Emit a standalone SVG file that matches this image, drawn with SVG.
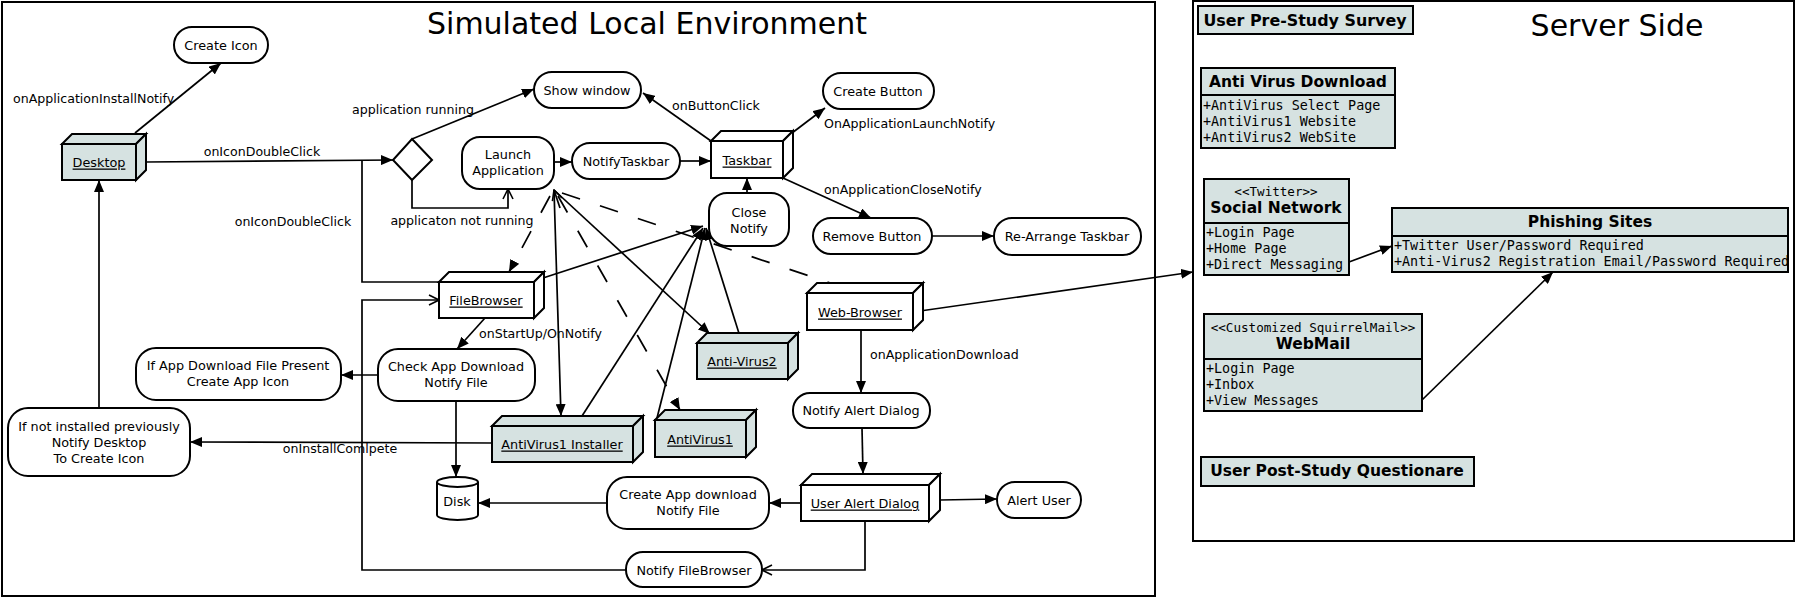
<svg xmlns="http://www.w3.org/2000/svg" width="1796" height="598" viewBox="0 0 1796 598">
<defs>
<style>
text{font-family:"DejaVu Sans","Liberation Sans",sans-serif;font-size:12.6px;fill:#000}
.t{text-anchor:middle;dominant-baseline:central;font-size:12.8px}
.u{text-decoration:underline}
.lbl{dominant-baseline:central}
.title{font-size:30px;text-anchor:middle}
.b{font-weight:bold;font-size:15.5px;text-anchor:middle;dominant-baseline:central}
.m{font-family:"DejaVu Sans Mono","Liberation Mono",monospace;font-size:13.4px}
.ms{font-family:"DejaVu Sans Mono","Liberation Mono",monospace;font-size:12.6px;text-anchor:middle;dominant-baseline:central}
.n{fill:#fff;stroke:#000;stroke-width:2}
.f{fill:#d6e2e1;stroke:#000;stroke-width:2}
.frame{fill:none;stroke:#000;stroke-width:2}
.c path,.c line,.c polyline{fill:none;stroke:#000;stroke-width:1.7}
.d{stroke-dasharray:19 21}
</style>
<marker id="a" viewBox="0 0 12 10" refX="12" refY="5" markerWidth="12" markerHeight="10" orient="auto" markerUnits="userSpaceOnUse"><path d="M0,0 L12,5 L0,10 z" fill="#000"/></marker>
<marker id="o" viewBox="0 0 12 12" refX="11" refY="6" markerWidth="12" markerHeight="12" orient="auto" markerUnits="userSpaceOnUse"><path d="M1,1 L11,6 L1,11" fill="none" stroke="#000" stroke-width="1.6"/></marker>
</defs>
<rect width="1796" height="598" fill="#fff"/>

<g id="local-frame">
<rect class="frame" x="2" y="2" width="1153" height="594"/>
<text class="title" x="647" y="34">Simulated Local Environment</text>
</g>
<g id="server-frame">
<rect class="frame" x="1193" y="1" width="601" height="540"/>
<text class="title" x="1617" y="36">Server Side</text>
</g>

<g class="c" id="connectors">
<line x1="135" y1="133" x2="221" y2="63" marker-end="url(#a)"/>
<line x1="146" y1="162" x2="393" y2="160" marker-end="url(#a)"/>
<line x1="412" y1="139" x2="534" y2="89" marker-end="url(#a)"/>
<polyline points="412,180 412,208 508,208 508,189" marker-end="url(#o)"/>
<polyline points="439,282 362,282 362,161"/>
<line x1="554" y1="162" x2="572" y2="162" marker-end="url(#a)"/>
<line x1="680" y1="161" x2="711" y2="161" marker-end="url(#a)"/>
<line x1="711" y1="141" x2="643" y2="93" marker-end="url(#a)"/>
<line x1="792" y1="133" x2="825" y2="108" marker-end="url(#a)"/>
<line x1="783" y1="178" x2="871" y2="218" marker-end="url(#a)"/>
<line x1="932" y1="236" x2="994" y2="236" marker-end="url(#a)"/>
<line x1="747" y1="193" x2="747" y2="178" marker-end="url(#a)"/>
<line x1="543" y1="278" x2="703" y2="226" marker-end="url(#a)"/>
<line x1="582" y1="416" x2="703" y2="228" marker-end="url(#a)"/>
<line x1="657" y1="418" x2="705" y2="228" marker-end="url(#a)"/>
<line x1="742" y1="343" x2="706" y2="228" marker-end="url(#a)"/>
<line x1="554" y1="190" x2="561" y2="416" marker-end="url(#a)"/>
<line x1="554" y1="190" x2="710" y2="334" marker-end="url(#a)"/>
<line x1="560" y1="208" x2="554" y2="190" marker-end="url(#o)"/>
<line class="d" x1="550" y1="196" x2="509" y2="272" marker-end="url(#a)"/>
<line class="d" x1="558" y1="196" x2="680" y2="410" marker-end="url(#a)"/>
<line class="d" x1="562" y1="193" x2="854" y2="291" marker-end="url(#a)"/>
<line x1="485" y1="318" x2="457" y2="349" marker-end="url(#a)"/>
<line x1="378" y1="375" x2="341" y2="375" marker-end="url(#a)"/>
<line x1="456" y1="401" x2="456" y2="477" marker-end="url(#a)"/>
<line x1="492" y1="443" x2="190" y2="442" marker-end="url(#a)"/>
<line x1="99" y1="408" x2="99" y2="180" marker-end="url(#a)"/>
<line x1="913" y1="312" x2="1193" y2="272" marker-end="url(#a)"/>
<line x1="861" y1="330" x2="861" y2="393" marker-end="url(#a)"/>
<line x1="862" y1="428" x2="863" y2="474" marker-end="url(#a)"/>
<line x1="940" y1="500" x2="997" y2="499" marker-end="url(#a)"/>
<line x1="801" y1="503" x2="769" y2="503" marker-end="url(#a)"/>
<line x1="607" y1="503" x2="478" y2="503" marker-end="url(#a)"/>
<polyline points="865,521 865,570 762,570" marker-end="url(#o)"/>
<polyline points="626,570 362,570 362,300 439,300" marker-end="url(#o)"/>
<line x1="1349" y1="262" x2="1392" y2="246" marker-end="url(#a)"/>
<line x1="1422" y1="400" x2="1553" y2="272" marker-end="url(#a)"/>
<text class="lbl" x="13" y="98">onApplicationInstallNotify</text>
<text class="lbl" x="262" y="151" text-anchor="middle">onIconDoubleClick</text>
<text class="lbl" x="413" y="109" text-anchor="middle">application running</text>
<text class="lbl" x="462" y="220" text-anchor="middle">applicaton not running</text>
<text class="lbl" x="293" y="221" text-anchor="middle">onIconDoubleClick</text>
<text class="lbl" x="672" y="105">onButtonClick</text>
<text class="lbl" x="824" y="123">OnApplicationLaunchNotify</text>
<text class="lbl" x="824" y="189">onApplicationCloseNotify</text>
<text class="lbl" x="479" y="333">onStartUp/OnNotify</text>
<text class="lbl" x="340" y="448" text-anchor="middle">onInstallComlpete</text>
<text class="lbl" x="870" y="354">onApplicationDownload</text>
</g>

<g id="create-icon"><rect class="n" x="174" y="27" width="94" height="36" rx="18"/><text class="t" x="221" y="45">Create Icon</text></g>
<g id="show-window"><rect class="n" x="534" y="72" width="107" height="36" rx="18"/><text class="t" x="587" y="90">Show window</text></g>
<g id="launch-application"><rect class="n" x="462" y="137" width="92" height="52" rx="18"/><text class="t" x="508" y="154">Launch</text><text class="t" x="508" y="170">Application</text></g>
<g id="notify-taskbar"><rect class="n" x="572" y="143" width="108" height="36" rx="18"/><text class="t" x="626" y="161">NotifyTaskbar</text></g>
<g id="create-button"><rect class="n" x="823" y="73" width="111" height="36" rx="18"/><text class="t" x="878" y="91">Create Button</text></g>
<g id="remove-button"><rect class="n" x="813" y="218" width="119" height="36" rx="18"/><text class="t" x="872" y="236">Remove Button</text></g>
<g id="rearrange-taskbar"><rect class="n" x="994" y="218" width="147" height="37" rx="18"/><text class="t" x="1067" y="236">Re-Arrange Taskbar</text></g>
<g id="close-notify"><rect class="n" x="709" y="193" width="80" height="53" rx="18"/><text class="t" x="749" y="212">Close</text><text class="t" x="749" y="228">Notify</text></g>
<g id="check-app-download"><rect class="n" x="378" y="349" width="157" height="52" rx="20"/><text class="t" x="456" y="366">Check App Download</text><text class="t" x="456" y="382">Notify File</text></g>
<g id="if-app-download"><rect class="n" x="136" y="348" width="205" height="52" rx="20"/><text class="t" x="238" y="365">If App Download File Present</text><text class="t" x="238" y="381">Create App Icon</text></g>
<g id="if-not-installed"><rect class="n" x="8" y="408" width="182" height="68" rx="20"/><text class="t" x="99" y="426">If not installed previously</text><text class="t" x="99" y="442">Notify Desktop</text><text class="t" x="99" y="458">To Create Icon</text></g>
<g id="notify-alert-dialog"><rect class="n" x="793" y="393" width="137" height="35" rx="17"/><text class="t" x="861" y="410">Notify Alert Dialog</text></g>
<g id="alert-user"><rect class="n" x="997" y="482" width="84" height="36" rx="18"/><text class="t" x="1039" y="500">Alert User</text></g>
<g id="create-app-download"><rect class="n" x="607" y="477" width="162" height="52" rx="20"/><text class="t" x="688" y="494">Create App download</text><text class="t" x="688" y="510">Notify File</text></g>
<g id="notify-filebrowser"><rect class="n" x="626" y="552" width="136" height="35" rx="17"/><text class="t" x="694" y="570">Notify FileBrowser</text></g>

<g id="decision"><path class="n" d="M412,139 L432,160 L412,180 L393,160 Z"/></g>

<g id="desktop"><rect class="f" x="62" y="144" width="74" height="36"/><path class="f" d="M62,144 L72,134 L146,134 L136,144 Z"/><path class="f" d="M136,144 L146,134 L146,170 L136,180 Z"/><text class="t u" x="99" y="162">Desktop</text></g>
<g id="taskbar"><rect class="n" x="711" y="141" width="72" height="37"/><path class="n" d="M711,141 L721,131 L793,131 L783,141 Z"/><path class="n" d="M783,141 L793,131 L793,168 L783,178 Z"/><text class="t u" x="747" y="160">Taskbar</text></g>
<g id="filebrowser"><rect class="n" x="439" y="282" width="95" height="36"/><path class="n" d="M439,282 L449,272 L544,272 L534,282 Z"/><path class="n" d="M534,282 L544,272 L544,308 L534,318 Z"/><text class="t u" x="486" y="300">FileBrowser</text></g>
<g id="web-browser"><rect class="n" x="807" y="293" width="106" height="37"/><path class="n" d="M807,293 L817,283 L923,283 L913,293 Z"/><path class="n" d="M913,293 L923,283 L923,320 L913,330 Z"/><text class="t u" x="860" y="312">Web-Browser</text></g>
<g id="anti-virus2"><rect class="f" x="697" y="343" width="91" height="36"/><path class="f" d="M697,343 L707,333 L798,333 L788,343 Z"/><path class="f" d="M788,343 L798,333 L798,369 L788,379 Z"/><text class="t u" x="742" y="361">Anti-Virus2</text></g>
<g id="antivirus1"><rect class="f" x="655" y="420" width="91" height="37"/><path class="f" d="M655,420 L665,410 L756,410 L746,420 Z"/><path class="f" d="M746,420 L756,410 L756,447 L746,457 Z"/><text class="t u" x="700" y="439">AntiVirus1</text></g>
<g id="antivirus1-installer"><rect class="f" x="492" y="426" width="141" height="36"/><path class="f" d="M492,426 L502,416 L643,416 L633,426 Z"/><path class="f" d="M633,426 L643,416 L643,452 L633,462 Z"/><text class="t u" x="562" y="444">AntiVirus1 Installer</text></g>
<g id="user-alert-dialog"><rect class="n" x="801" y="485" width="128" height="36"/><path class="n" d="M801,485 L812,474 L940,474 L929,485 Z"/><path class="n" d="M929,485 L940,474 L940,510 L929,521 Z"/><text class="t u" x="865" y="503">User Alert Dialog</text></g>
<g id="disk"><path class="n" d="M437,482 A20.5,5 0 0 1 478,482 L478,515 A20.5,5 0 0 1 437,515 Z"/><path d="M437,482 A20.5,5 0 0 0 478,482" fill="none" stroke="#000" stroke-width="2"/><text class="t" x="457" y="501">Disk</text></g>

<g id="pre-study-survey"><rect class="f" x="1198" y="6" width="215" height="28"/><text class="b" x="1305" y="20" style="font-size:15.9px">User Pre-Study Survey</text></g>
<g id="anti-virus-download"><rect class="f" x="1201" y="68" width="194" height="80"/><line x1="1201" y1="95" x2="1395" y2="95" stroke="#000" stroke-width="2"/><text class="b" x="1298" y="82">Anti Virus Download</text><text class="m" x="1203" y="110">+AntiVirus Select Page</text><text class="m" x="1203" y="126">+AntiVirus1 Website</text><text class="m" x="1203" y="142">+AntiVirus2 WebSite</text></g>
<g id="social-network"><rect class="f" x="1204" y="179" width="145" height="96"/><line x1="1204" y1="223" x2="1349" y2="223" stroke="#000" stroke-width="2"/><text class="ms" x="1276" y="191">&lt;&lt;Twitter&gt;&gt;</text><text class="b" x="1276" y="208">Social Network</text><text class="m" x="1206" y="237">+Login Page</text><text class="m" x="1206" y="253">+Home Page</text><text class="m" x="1206" y="269">+Direct Messaging</text></g>
<g id="phishing-sites"><rect class="f" x="1392" y="208" width="396" height="64"/><line x1="1392" y1="236" x2="1788" y2="236" stroke="#000" stroke-width="2"/><text class="b" x="1590" y="222">Phishing Sites</text><text class="m" x="1394" y="250">+Twitter User/Password Required</text><text class="m" x="1394" y="266">+Anti-Virus2 Registration Email/Password Required</text></g>
<g id="webmail"><rect class="f" x="1204" y="314" width="218" height="97"/><line x1="1204" y1="359" x2="1422" y2="359" stroke="#000" stroke-width="2"/><text class="ms" x="1313" y="327">&lt;&lt;Customized SquirrelMail&gt;&gt;</text><text class="b" x="1313" y="344">WebMail</text><text class="m" x="1206" y="373">+Login Page</text><text class="m" x="1206" y="389">+Inbox</text><text class="m" x="1206" y="405">+View Messages</text></g>
<g id="post-study-questionare"><rect class="f" x="1201" y="457" width="273" height="29"/><text class="b" x="1337" y="471">User Post-Study Questionare</text></g>
</svg>
